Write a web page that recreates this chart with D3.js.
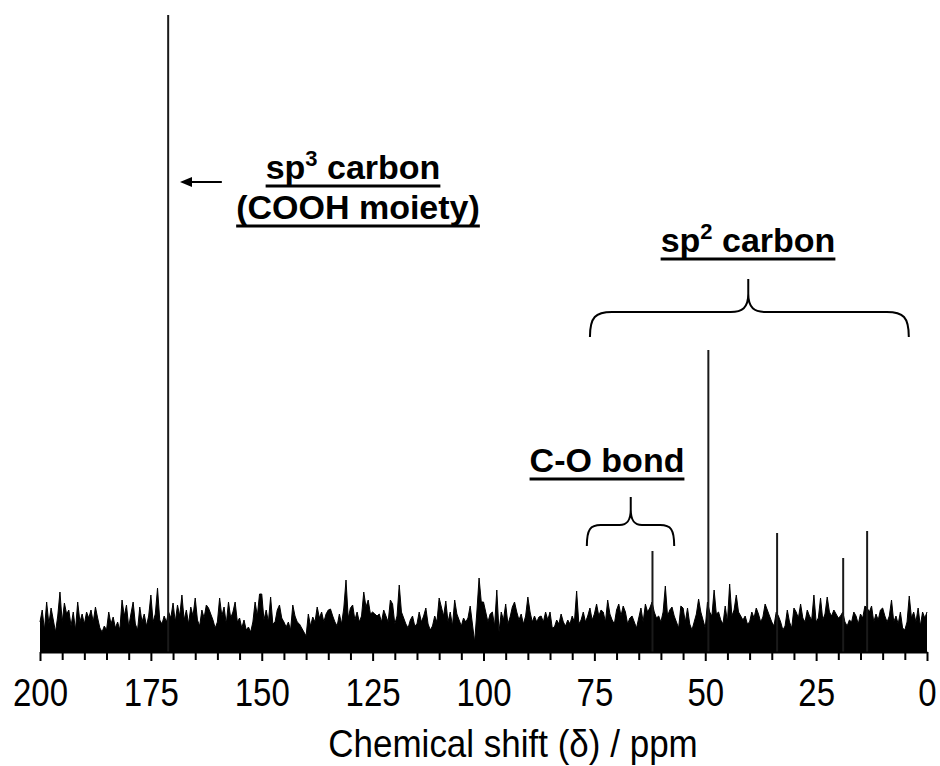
<!DOCTYPE html>
<html>
<head>
<meta charset="utf-8">
<script src="https://cdn.jsdelivr.net/npm/d3@7"></script>
<style>
  html, body { margin: 0; padding: 0; background: #fff; }
  svg { display: block; }
  text { font-family: "Liberation Sans", Arial, sans-serif; fill: #000; }
</style>
</head>
<body>
<svg id="chart" width="940" height="766"></svg>
<script>
// ---- DATA ----
// chemical shift axis (ppm), sampled from 200 down to 0 every 0.5 ppm
const shiftStart = 200;
const shiftStep = 0.5;
// baseline noise intensity (a.u.), 200 -> 150.5 ppm
const noise1 = [30,42,22,50,28,44,32,20,36,60,30,49,38,42,26,40,22,50,30,38,
  28,40,34,42,30,45,34,24,20,26,22,40,28,35,24,30,22,52,36,47,
  25,38,50,28,22,45,30,38,26,36,57,30,38,64,32,28,36,30,40,34,
  49,30,47,36,57,32,42,28,45,36,54,32,26,42,34,47,44,38,32,24,
  30,54,36,45,28,50,34,40,50,30,34,24,32,22,25,20,30,50,36,58];
// 150 -> 100.5 ppm
const noise2 = [58,32,42,30,55,28,30,42,47,34,30,25,30,22,47,36,30,28,24,20,
  16,38,26,35,30,45,34,40,30,38,42,43,36,30,26,38,28,44,72,34,
  44,47,32,40,30,36,60,45,52,38,40,38,36,38,30,42,36,30,52,48,
  28,36,67,40,34,28,24,32,36,26,28,40,30,36,44,28,22,26,36,30,
  54,45,36,51,30,40,26,52,38,32,26,34,30,34,46,28,10,40,74,50];
// 100 -> 50.5 ppm
const noise3 = [50,40,30,38,40,26,62,20,40,32,48,28,35,45,50,40,32,38,28,36,
  55,40,30,36,30,35,36,30,40,32,40,24,25,32,28,38,30,26,32,28,
  36,30,61,28,32,40,30,36,44,32,38,48,36,42,40,30,52,38,32,28,
  42,48,36,46,40,28,34,36,30,24,34,44,30,48,40,44,50,40,34,36,
  30,40,66,36,42,45,36,30,24,46,44,30,44,28,22,30,38,53,40,32];
// 50 -> 0 ppm
const noise4 = [24,50,40,36,62,38,40,32,28,46,30,68,36,42,57,40,36,32,36,28,
  30,40,34,44,38,30,35,48,42,36,30,26,40,36,30,22,26,42,30,24,
  44,40,34,48,34,30,42,36,32,57,30,34,54,32,38,55,40,36,42,38,
  34,36,40,30,26,32,30,40,36,28,38,34,46,44,40,46,30,38,32,42,
  44,36,30,36,52,30,36,28,40,24,22,30,56,34,40,30,44,26,40,34,40];
const noise = noise1.concat(noise2, noise3, noise4);

// resolved signals
const peakShifts  = [171.1, 61.9, 49.3, 33.8, 18.9, 13.5];
const peakHeights = [637, 101, 302, 119, 94, 121];

// axis
const tickValues = d3.range(0, 201, 5);
const labelValues = [200, 175, 150, 125, 100, 75, 50, 25, 0];
const xTitle = "Chemical shift (δ) / ppm";

// annotations (ranges in ppm, levels in a.u.)
const sp2Range = [76.0, 4.1], sp2Tip = 40.3;
const coRange = [76.7, 57.0], coTip = 66.8;
const arrowFrom = 159.0, arrowTo = 166.0;

// ---- CHART ----
const svg = d3.select("#chart");
const x = d3.scaleLinear().domain([200, 0]).range([40, 927]);
const y = d3.scaleLinear().domain([0, 640]).range([652, 12]);

// noise spectrum
const area = d3.area()
  .x((d, i) => x(shiftStart - i * shiftStep))
  .y0(y(0))
  .y1(d => y(d));
const line = d3.line()
  .x((d, i) => x(shiftStart - i * shiftStep))
  .y(d => y(d));
svg.append("path").datum(noise).attr("d", area).attr("fill", "#000");
svg.append("path").datum(noise).attr("d", line)
  .attr("fill", "none").attr("stroke", "#000").attr("stroke-width", 1);

// peaks
svg.append("g").selectAll("line").data(peakShifts).join("line")
  .attr("x1", d => x(d)).attr("x2", d => x(d))
  .attr("y1", y(0)).attr("y2", (d, i) => y(peakHeights[i]))
  .attr("stroke", "#1a1a1a").attr("stroke-width", 2);

// axis
const axis = d3.axisBottom(x)
  .tickValues(tickValues)
  .tickSize(8)
  .tickSizeOuter(0)
  .tickFormat(d => labelValues.includes(d) ? d : "");
const gAxis = svg.append("g").attr("transform", `translate(0,${y(0)})`).call(axis);
gAxis.select(".domain").attr("stroke", "#000").attr("stroke-width", 2);
gAxis.selectAll(".tick line").attr("stroke", "#000").attr("stroke-width", 2)
  .attr("y2", d => labelValues.includes(d) ? 9 : 8);
gAxis.selectAll(".tick text")
  .attr("y", 0).attr("dy", 0)
  .attr("transform", "translate(0,54) scale(1,1.15)")
  .style("font-size", "33px")
  .style("font-family", "'Liberation Sans', Arial, sans-serif")
  .attr("fill", "#000");

svg.append("text")
  .attr("transform", "translate(513,757) scale(1,1.1)")
  .attr("text-anchor", "middle")
  .style("font-size", "35px")
  .text(xTitle);

// underlined bold labels; parts: [text, isSuperscript]
function label(cx, baseY, parts) {
  const t = svg.append("text")
    .attr("x", cx).attr("y", baseY)
    .attr("text-anchor", "middle")
    .style("font-size", "34px").style("font-weight", "bold");
  let shifted = false;
  parts.forEach(([s, sup]) => {
    const ts = t.append("tspan").text(s);
    if (sup) { ts.attr("dy", -13).style("font-size", "22px"); shifted = true; }
    else if (shifted) { ts.attr("dy", 13); shifted = false; }
  });
  const w = t.node().getComputedTextLength();
  svg.append("line")
    .attr("x1", cx - w / 2).attr("x2", cx + w / 2)
    .attr("y1", baseY + 7).attr("y2", baseY + 7)
    .attr("stroke", "#000").attr("stroke-width", 3);
}

function brace(r0, r1, tip, lvEnd, lvH, lvTip, rad) {
  const x0 = x(r0), x1 = x(r1), xt = x(tip);
  const ye = y(lvEnd), yh = y(lvH), yt = y(lvTip);
  const r2 = rad * 0.8;
  const p = d3.path();
  p.moveTo(x0, ye);
  p.bezierCurveTo(x0, ye - (ye - yh) * 0.8, x0 + rad * 0.25, yh, x0 + rad, yh);
  p.lineTo(xt - r2, yh);
  p.bezierCurveTo(xt - r2 * 0.35, yh, xt, yh - 4, xt, yh - (yh - yt) * 0.55);
  p.lineTo(xt, yt);
  p.moveTo(xt, yh - (yh - yt) * 0.55);
  p.bezierCurveTo(xt, yh - 4, xt + r2 * 0.35, yh, xt + r2, yh);
  p.lineTo(x1 - rad, yh);
  p.bezierCurveTo(x1 - rad * 0.25, yh, x1, ye - (ye - yh) * 0.8, x1, ye);
  svg.append("path").attr("d", p.toString())
    .attr("fill", "none").attr("stroke", "#000").attr("stroke-width", 2);
}

// sp3 annotation with arrow
label(353, 179, [["sp", false], ["3", true], [" carbon", false]]);
label(358, 219, [["(COOH moiety)", false]]);
svg.append("defs").append("marker")
  .attr("id", "arrow").attr("viewBox", "0 0 10 10")
  .attr("refX", 1).attr("refY", 5)
  .attr("markerWidth", 6).attr("markerHeight", 5)
  .attr("orient", "auto-start-reverse")
  .attr("preserveAspectRatio", "none")
  .append("path").attr("d", "M0,0 L10,5 L0,10 Z").attr("fill", "#000");
svg.append("line")
  .attr("x1", x(arrowFrom)).attr("x2", x(arrowTo))
  .attr("y1", y(470)).attr("y2", y(470))
  .attr("stroke", "#000").attr("stroke-width", 2)
  .attr("marker-end", "url(#arrow)");

// sp2 annotation
label(748, 252, [["sp", false], ["2", true], [" carbon", false]]);
brace(sp2Range[0], sp2Range[1], sp2Tip, 315, 340, 373, 22);

// C-O annotation
label(607, 472, [["C-O bond", false]]);
brace(coRange[0], coRange[1], coTip, 106, 127, 155, 14);
</script>
</body>
</html>
